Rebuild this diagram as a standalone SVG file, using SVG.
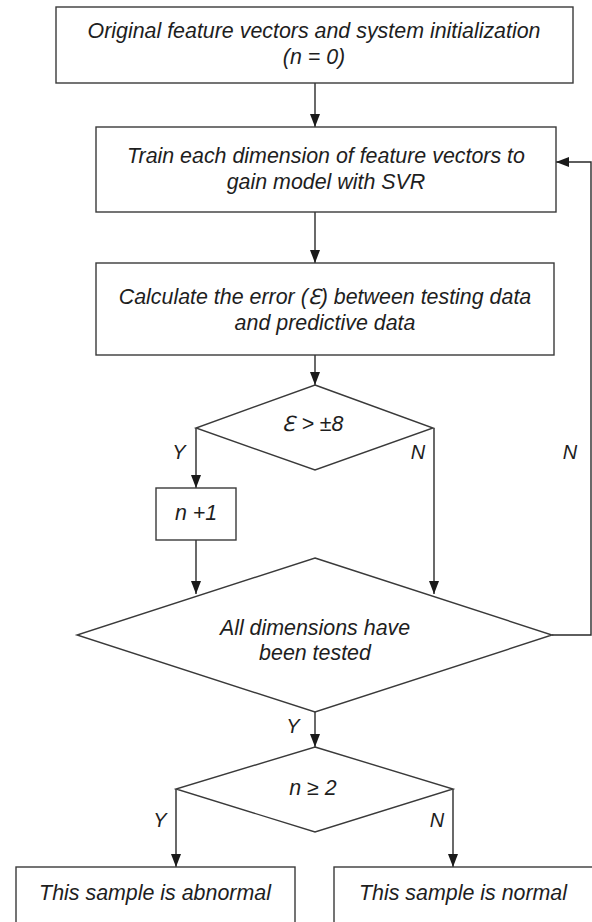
<svg xmlns="http://www.w3.org/2000/svg" width="592" height="922" viewBox="0 0 592 922">
  <defs>
    <marker id="arrow" viewBox="0 0 13 10" refX="13" refY="5" markerWidth="13" markerHeight="10" markerUnits="userSpaceOnUse" orient="auto">
      <path d="M0,0 L13,5 L0,10 z" fill="#1a1a1a"/>
    </marker>
    <style>
      .shape { fill: #ffffff; stroke: #3a3a3a; stroke-width: 1.4; }
      .edge { fill: none; stroke: #2a2a2a; stroke-width: 1.4; marker-end: url(#arrow); }
      text { font-family: "Liberation Sans", Arial, sans-serif; font-style: italic; fill: #1e1e1e; text-anchor: middle; }
      .main { font-size: 21.4px; }
      .lbl { font-size: 20px; }
    </style>
  </defs>
  <rect width="592" height="922" fill="#ffffff"/>

  <!-- connectors -->
  <g id="connectors">
    <line class="edge" x1="315" y1="83" x2="315" y2="127"/>
    <line class="edge" x1="315" y1="212" x2="315" y2="263"/>
    <line class="edge" x1="315" y1="355" x2="315" y2="385"/>
    <line class="edge" x1="196" y1="428" x2="196" y2="488"/>
    <line class="edge" x1="196" y1="540" x2="196" y2="594"/>
    <line class="edge" x1="434" y1="428" x2="434" y2="594"/>
    <line class="edge" x1="315" y1="712" x2="315" y2="747"/>
    <line class="edge" x1="176" y1="789" x2="176" y2="867"/>
    <line class="edge" x1="453" y1="789" x2="453" y2="867"/>
    <polyline class="edge" points="552,635 591,635 591,162 556,162"/>
    <text class="lbl" x="179" y="459">Y</text>
    <text class="lbl" x="418" y="459">N</text>
    <text class="lbl" x="570" y="459">N</text>
    <text class="lbl" x="293" y="733">Y</text>
    <text class="lbl" x="160" y="827">Y</text>
    <text class="lbl" x="437" y="827">N</text>
  </g>

  <g id="init">
    <rect class="shape" x="56" y="7" width="517" height="76"/>
    <text class="main" x="314" y="38">Original feature vectors and system initialization</text>
    <text class="main" x="314" y="64">(n = 0)</text>
  </g>

  <g id="train">
    <rect class="shape" x="96" y="127" width="460" height="85"/>
    <text class="main" x="326" y="163">Train each dimension of feature vectors to</text>
    <text class="main" x="326" y="189">gain model with SVR</text>
  </g>

  <g id="error">
    <rect class="shape" x="96" y="263" width="458" height="92"/>
    <text class="main" x="325" y="304">Calculate the error (ℇ) between testing data</text>
    <text class="main" x="325" y="330">and predictive data</text>
  </g>

  <g id="threshold">
    <polygon class="shape" points="315,385 433,428 315,470 196,428"/>
    <text class="main" x="313" y="431">ℇ &gt; ±8</text>
  </g>

  <g id="increment">
    <rect class="shape" x="156" y="488" width="80" height="52"/>
    <text class="main" x="196" y="520">n +1</text>
  </g>

  <g id="all-tested">
    <polygon class="shape" points="315,558 552,635 315,712 77,635"/>
    <text class="main" x="315" y="635">All dimensions have</text>
    <text class="main" x="315" y="660">been tested</text>
  </g>

  <g id="count">
    <polygon class="shape" points="315,747 453,789 315,832 176,789"/>
    <text class="main" x="313" y="795">n ≥ 2</text>
  </g>

  <g id="abnormal">
    <rect class="shape" x="16" y="867" width="279" height="70"/>
    <text class="main" x="155" y="900">This sample is abnormal</text>
  </g>

  <g id="normal">
    <rect class="shape" x="334" y="867" width="270" height="70"/>
    <text class="main" x="463" y="900">This sample is normal</text>
  </g>
</svg>
